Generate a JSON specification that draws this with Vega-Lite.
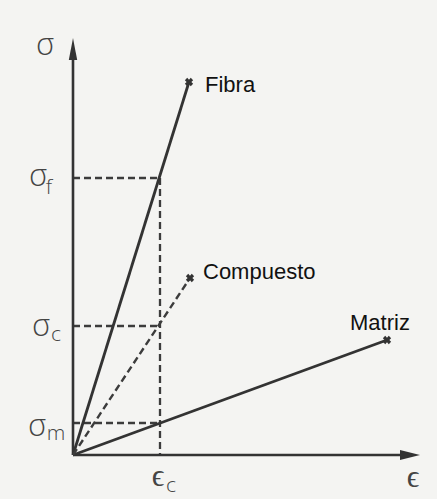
{
  "$schema": "https://vega.github.io/schema/vega-lite/v6.json",
  "autosize": {"type": "none"},
  "width": 347,
  "height": 417,
  "padding": {"left": 73, "top": 38, "right": 17, "bottom": 44},
  "background": "#f4f4f2",
  "config": {"view": {"stroke": null}},
  "datasets": {
    "curves": [
      {"serie": "Fibra", "e": 0, "s": 0},
      {"serie": "Fibra", "e": 116, "s": 373},
      {"serie": "Matriz", "e": 0, "s": 0},
      {"serie": "Matriz", "e": 314, "s": 115},
      {"serie": "Compuesto", "e": 0, "s": 0},
      {"serie": "Compuesto", "e": 117, "s": 177}
    ],
    "guides": [
      {"e": 0, "s": 277, "e2": 87, "s2": 277},
      {"e": 0, "s": 129, "e2": 87, "s2": 129},
      {"e": 0, "s": 32, "e2": 87, "s2": 32},
      {"e": 87, "s": 277, "e2": 87, "s2": 0}
    ],
    "axes": [
      {"e": 0, "s": 0, "e2": 0, "s2": 400},
      {"e": 0, "s": 0, "e2": 335, "s2": 0}
    ],
    "ends": [
      {"serie": "Fibra", "e": 116, "s": 373},
      {"serie": "Compuesto", "e": 117, "s": 177},
      {"serie": "Matriz", "e": 314, "s": 115}
    ],
    "names": [
      {"t": "Fibra", "e": 132, "s": 363},
      {"t": "Compuesto", "e": 130, "s": 176},
      {"t": "Matriz", "e": 277, "s": 125}
    ],
    "symbols": [
      {"t": "σ", "e": -28, "s": 409},
      {"t": "σ", "e": -35, "s": 278},
      {"t": "σ", "e": -32, "s": 128},
      {"t": "σ", "e": -36, "s": 28},
      {"t": "ϵ", "e": 85, "s": -22},
      {"t": "ϵ", "e": 340, "s": -23}
    ],
    "subs": [
      {"t": "f", "e": -24, "s": 267},
      {"t": "c", "e": -17, "s": 120},
      {"t": "m", "e": -17, "s": 21},
      {"t": "c", "e": 98, "s": -31}
    ],
    "arrowUp": [{"e": 0, "s": 406}],
    "arrowRight": [{"e": 337, "s": 0}]
  },
  "encoding": {
    "x": {"field": "e", "type": "quantitative", "scale": {"domain": [0, 347], "nice": false, "zero": false}, "axis": null},
    "y": {"field": "s", "type": "quantitative", "scale": {"domain": [0, 417], "nice": false, "zero": false}, "axis": null}
  },
  "layer": [
    {
      "data": {"name": "guides"},
      "mark": {"type": "rule", "color": "#3c3c3c", "strokeWidth": 2.3, "strokeDash": [7, 4]},
      "encoding": {"x2": {"field": "e2"}, "y2": {"field": "s2"}}
    },
    {
      "data": {"name": "axes"},
      "mark": {"type": "rule", "color": "#333333", "strokeWidth": 2.6},
      "encoding": {"x2": {"field": "e2"}, "y2": {"field": "s2"}}
    },
    {
      "data": {"name": "curves"},
      "transform": [{"filter": "datum.serie !== 'Compuesto'"}],
      "mark": {"type": "line", "color": "#333333", "strokeWidth": 2.8},
      "encoding": {"detail": {"field": "serie"}}
    },
    {
      "data": {"name": "curves"},
      "transform": [{"filter": "datum.serie === 'Compuesto'"}],
      "mark": {"type": "line", "color": "#3c3c3c", "strokeWidth": 2.4, "strokeDash": [7, 4]},
      "encoding": {"detail": {"field": "serie"}}
    },
    {
      "data": {"name": "arrowUp"},
      "mark": {"type": "point", "shape": "M0,-1L0.38,1L-0.38,1Z", "size": 484, "filled": true, "color": "#333333", "opacity": 1}
    },
    {
      "data": {"name": "arrowRight"},
      "mark": {"type": "point", "shape": "M1,0L-1,0.5L-1,-0.5Z", "size": 400, "filled": true, "color": "#333333", "opacity": 1}
    },
    {
      "data": {"name": "ends"},
      "mark": {"type": "point", "shape": "cross", "angle": 45, "size": 70, "filled": true, "color": "#333333", "opacity": 1}
    },
    {
      "data": {"name": "names"},
      "mark": {"type": "text", "align": "left", "baseline": "alphabetic", "font": "Liberation Sans", "fontSize": 22, "color": "#111111"},
      "encoding": {"text": {"field": "t"}}
    },
    {
      "data": {"name": "symbols"},
      "mark": {"type": "text", "align": "center", "baseline": "middle", "font": "Open Sans", "fontWeight": 300, "fontSize": 31, "color": "#444444"},
      "encoding": {"text": {"field": "t"}}
    },
    {
      "data": {"name": "subs"},
      "mark": {"type": "text", "align": "center", "baseline": "middle", "font": "Open Sans", "fontWeight": 300, "fontSize": 21, "color": "#444444"},
      "encoding": {"text": {"field": "t"}}
    }
  ]
}
